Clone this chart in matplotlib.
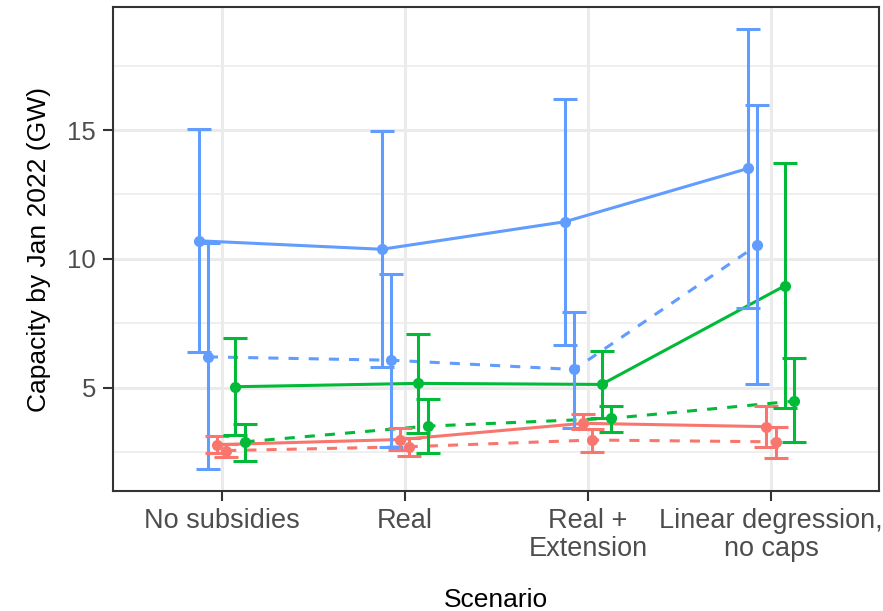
import matplotlib.pyplot as plt
import numpy as np

plt.rcParams['font.family'] = ['Liberation Sans', 'DejaVu Sans']

scenarios = ["No subsidies", "Real", "Real +\nExtension", "Linear degression,\nno caps"]

# series: (colour, linestyle, dodge slot)
blue_solid = [10.70, 10.37, 11.44, 13.51]
blue_solid_lo = [6.39, 5.78, 6.65, 8.10]
blue_solid_hi = [15.03, 14.97, 16.20, 18.92]

blue_dash = [6.19, 6.06, 5.70, 10.53]
blue_dash_lo = [1.82, 2.70, 3.41, 5.12]
blue_dash_hi = [10.62, 9.41, 7.92, 15.97]

red_solid = [2.78, 2.98, 3.61, 3.48]
red_solid_lo = [2.45, 2.57, 3.37, 2.70]
red_solid_hi = [3.12, 3.41, 3.99, 4.28]

red_dash = [2.55, 2.70, 2.96, 2.89]
red_dash_lo = [2.31, 2.33, 2.51, 2.27]
red_dash_hi = [2.80, 3.05, 3.37, 3.48]

green_solid = [5.03, 5.16, 5.12, 8.95]
green_solid_lo = [3.15, 3.22, 3.80, 4.22]
green_solid_hi = [6.91, 7.07, 6.43, 13.71]

green_dash = [2.89, 3.50, 3.80, 4.47]
green_dash_lo = [2.15, 2.44, 3.28, 2.87]
green_dash_hi = [3.57, 4.55, 4.28, 6.13]

BLUE = '#619CFF'
RED = '#F8766D'
GREEN = '#00BA38'

series = [
    (blue_solid, blue_solid_lo, blue_solid_hi, BLUE, '-'),
    (blue_dash, blue_dash_lo, blue_dash_hi, BLUE, '--'),
    (red_solid, red_solid_lo, red_solid_hi, RED, '-'),
    (red_dash, red_dash_lo, red_dash_hi, RED, '--'),
    (green_solid, green_solid_lo, green_solid_hi, GREEN, '-'),
    (green_dash, green_dash_lo, green_dash_hi, GREEN, '--'),
]

fig = plt.figure(figsize=(8.83, 6.11), dpi=100)
ax = fig.add_axes([0.1276, 0.1964, 0.8679, 0.7921])

x = np.arange(1, 5)
step = 0.05
n = len(series)
for i, (v, lo, hi, col, ls) in enumerate(series):
    xs = x + (i - (n - 1) / 2) * step
    v = np.array(v)
    lo = np.array(lo)
    hi = np.array(hi)
    line, = ax.plot(xs, v, color=col, lw=2.2, zorder=3)
    if ls == '--':
        line.set_dashes((3.3, 3.3))
    ax.errorbar(xs, v, yerr=[v - lo, hi - v], fmt='none', ecolor=col,
                elinewidth=2.2, capsize=8.5, capthick=2.2, zorder=4)
    ax.plot(xs, v, 'o', color=col, ms=7, zorder=5)

ax.set_xlim(0.405, 4.59)
ax.set_ylim(0.98, 19.78)
ax.set_xticks(x)
ax.set_xticklabels(scenarios, linespacing=1.12)
ax.set_yticks([5, 10, 15])
ax.set_yticks([2.5, 7.5, 12.5, 17.5], minor=True)

ax.grid(True, which='major', color='#EBEBEB', lw=2.2, zorder=0)
ax.grid(True, which='minor', axis='y', color='#EBEBEB', lw=1.1, zorder=0)
ax.set_axisbelow(True)
for s in ax.spines.values():
    s.set_color('#333333')
    s.set_linewidth(1.5)
ax.tick_params(which='major', color='#333333', width=1.5, length=7,
               labelcolor='#4D4D4D')
ax.tick_params(axis='x', labelsize=19.5, pad=5)
ax.tick_params(axis='y', labelsize=18.5, pad=5)
ax.tick_params(which='minor', length=0)

ax.set_xlabel("Scenario", fontsize=19, labelpad=19)
ax.set_ylabel("Capacity by Jan 2022 (GW)", fontsize=19, labelpad=12)

fig.savefig('out.png', dpi=100)
